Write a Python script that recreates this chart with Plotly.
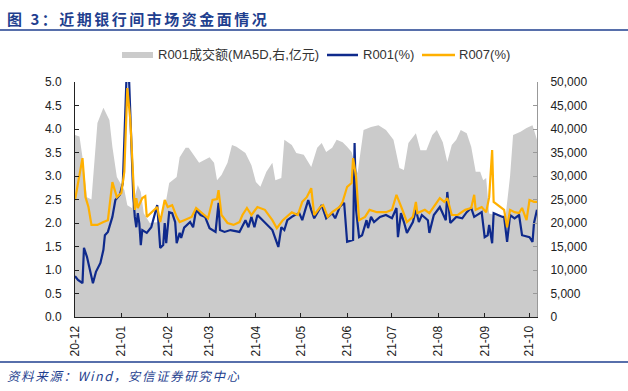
import plotly.graph_objects as go

# ---------------- data ----------------
vol_dates = ["2020-12-01","2020-12-04","2020-12-06","2020-12-09","2020-12-12","2020-12-16","2020-12-20",
 "2020-12-24","2020-12-26","2020-12-29","2021-01-01","2021-01-03","2021-01-05","2021-01-08","2021-01-12",
 "2021-01-14","2021-01-16","2021-01-20","2021-01-26","2021-01-31","2021-02-02","2021-02-07","2021-02-09",
 "2021-02-13","2021-02-15","2021-02-22","2021-03-01","2021-03-04","2021-03-06","2021-03-09","2021-03-13",
 "2021-03-16","2021-03-19","2021-03-25","2021-03-29","2021-04-01","2021-04-04","2021-04-08","2021-04-12",
 "2021-04-14","2021-04-18","2021-04-20","2021-04-25","2021-04-28","2021-05-03","2021-05-08","2021-05-12",
 "2021-05-15","2021-05-18","2021-05-22","2021-05-25","2021-05-29","2021-06-01","2021-06-04","2021-06-08",
 "2021-06-12","2021-06-17","2021-06-22","2021-06-27","2021-07-02","2021-07-06","2021-07-09","2021-07-12",
 "2021-07-17","2021-07-20","2021-07-24","2021-07-28","2021-07-31","2021-08-04","2021-08-07","2021-08-10",
 "2021-08-13","2021-08-16","2021-08-20","2021-08-23","2021-08-26","2021-08-29","2021-08-31","2021-09-02",
 "2021-09-04","2021-09-10","2021-09-15","2021-09-18","2021-09-20","2021-09-25","2021-09-29","2021-10-03",
 "2021-10-06"]
vol_ma5d = [38700,38400,34000,25500,25000,41300,44500,41900,36200,29800,28100,27000,23800,23200,28100,
 26600,22100,20000,20200,24900,28500,29800,34000,36000,36000,32800,34000,32800,29100,30200,32800,
 36600,36200,34900,32300,28700,27700,30900,32800,29100,29600,37700,36600,34900,34500,31900,36000,
 37000,35100,36000,37700,37200,36200,35100,30600,39800,40400,40800,39800,37700,31700,31300,37000,
 39100,35500,35500,38700,39800,37200,33000,36600,37700,39800,39100,36200,30900,30900,29100,29600,
 22000,21500,21500,30000,38700,39400,40200,40800,37700]

r001_dates = ["2020-12-01","2020-12-03","2020-12-06","2020-12-07","2020-12-09","2020-12-11","2020-12-13",
 "2020-12-15","2020-12-18","2020-12-20","2020-12-21","2020-12-23","2020-12-26","2020-12-28","2020-12-29",
 "2020-12-31","2021-01-02","2021-01-03","2021-01-05","2021-01-06","2021-01-07","2021-01-08","2021-01-09",
 "2021-01-10","2021-01-11","2021-01-12","2021-01-13","2021-01-14","2021-01-15","2021-01-18","2021-01-21",
 "2021-01-25","2021-01-27","2021-01-29","2021-01-30","2021-01-31","2021-02-02","2021-02-04","2021-02-06",
 "2021-02-07","2021-02-09","2021-02-10","2021-02-12","2021-02-16","2021-02-18","2021-02-20","2021-02-23",
 "2021-02-26","2021-03-01","2021-03-05","2021-03-07","2021-03-08","2021-03-11","2021-03-15","2021-03-21",
 "2021-03-25","2021-03-27","2021-03-29","2021-03-31","2021-04-02","2021-04-07","2021-04-12","2021-04-16",
 "2021-04-18","2021-04-20","2021-04-22","2021-04-25","2021-04-27","2021-04-30","2021-05-02","2021-05-04",
 "2021-05-06","2021-05-08","2021-05-10","2021-05-15","2021-05-18","2021-05-22","2021-05-24","2021-05-27",
 "2021-05-30","2021-06-01","2021-06-05","2021-06-06","2021-06-07","2021-06-09","2021-06-11","2021-06-14",
 "2021-06-15","2021-06-17","2021-06-19","2021-06-23","2021-06-27","2021-07-01","2021-07-04","2021-07-05",
 "2021-07-07","2021-07-09","2021-07-11","2021-07-15","2021-07-17","2021-07-19","2021-07-21","2021-07-25",
 "2021-07-26","2021-07-29","2021-08-02","2021-08-06","2021-08-07","2021-08-09","2021-08-13","2021-08-17",
 "2021-08-20","2021-08-23","2021-08-25","2021-08-30","2021-09-01","2021-09-03","2021-09-04","2021-09-06",
 "2021-09-07","2021-09-13","2021-09-14","2021-09-16","2021-09-18","2021-09-21","2021-09-24","2021-09-26",
 "2021-10-01","2021-10-03","2021-10-04","2021-10-06"]
r001 = [0.87,0.79,0.72,1.47,1.28,1.00,0.72,0.96,1.15,1.43,1.74,1.81,2.13,2.49,2.53,2.60,2.85,3.55,5.60,
 5.20,4.30,3.49,2.55,2.13,1.91,2.21,2.00,1.53,1.85,1.79,1.91,2.38,1.47,1.53,2.00,1.57,2.23,2.21,2.02,
 1.57,1.79,1.68,1.90,2.02,1.91,2.28,2.17,2.13,1.89,1.81,2.43,1.85,1.81,1.85,1.81,2.06,1.91,2.13,1.91,
 2.17,2.02,1.85,1.49,1.91,1.85,2.06,2.13,2.17,2.21,2.06,2.28,2.49,2.28,2.10,2.38,2.10,2.21,2.10,2.34,
 2.43,1.60,1.64,3.70,2.28,1.70,1.74,2.06,1.89,2.13,2.02,2.13,2.17,2.10,2.32,1.70,2.21,2.02,1.79,2.02,
 2.28,2.02,2.17,2.06,1.79,2.17,2.34,2.06,2.66,2.00,2.13,2.10,2.23,2.32,2.13,2.23,1.70,1.74,1.96,1.57,
 2.21,2.13,2.13,1.60,2.17,2.10,2.17,1.74,1.70,1.60,2.00,2.28]

r007_dates = ["2020-12-01","2020-12-04","2020-12-06","2020-12-08","2020-12-10","2020-12-12","2020-12-16",
 "2020-12-20","2020-12-23","2020-12-26","2020-12-29","2021-01-01","2021-01-03","2021-01-05","2021-01-07",
 "2021-01-09","2021-01-10","2021-01-11","2021-01-12","2021-01-15","2021-01-17","2021-01-18","2021-01-25",
 "2021-01-27","2021-01-30","2021-02-01","2021-02-04","2021-02-07","2021-02-09","2021-02-12","2021-02-17",
 "2021-02-20","2021-02-24","2021-02-28","2021-03-03","2021-03-06","2021-03-07","2021-03-09","2021-03-13",
 "2021-03-17","2021-03-21","2021-03-23","2021-03-26","2021-03-29","2021-04-02","2021-04-07","2021-04-12",
 "2021-04-15","2021-04-19","2021-04-25","2021-04-29","2021-05-02","2021-05-05","2021-05-08","2021-05-10",
 "2021-05-14","2021-05-16","2021-05-19","2021-05-22","2021-05-27","2021-05-29","2021-06-01","2021-06-04",
 "2021-06-05","2021-06-07","2021-06-09","2021-06-13","2021-06-16","2021-06-21","2021-06-27","2021-07-01",
 "2021-07-04","2021-07-08","2021-07-11","2021-07-15","2021-07-17","2021-07-18","2021-07-23","2021-07-26",
 "2021-07-29","2021-08-02","2021-08-05","2021-08-07","2021-08-10","2021-08-14","2021-08-19","2021-08-23",
 "2021-08-25","2021-08-26","2021-08-30","2021-09-02","2021-09-04","2021-09-06","2021-09-07","2021-09-14",
 "2021-09-16","2021-09-18","2021-09-21","2021-09-24","2021-09-26","2021-09-29","2021-10-01","2021-10-04",
 "2021-10-06"]
r007 = [2.49,2.98,3.38,2.55,2.34,1.96,1.96,2.02,2.06,2.87,2.55,2.64,3.09,4.87,4.19,2.91,2.28,2.53,2.32,
 2.53,2.57,2.13,2.34,2.02,2.49,2.34,2.38,2.13,2.02,2.06,2.13,2.32,2.21,2.10,2.49,2.51,2.70,2.17,2.00,
 1.96,2.02,2.17,2.32,2.17,2.34,2.28,2.06,1.89,2.06,2.23,2.17,2.45,2.55,2.74,2.17,2.34,2.38,2.13,2.23,
 2.34,2.45,2.77,2.85,3.38,2.98,2.06,2.13,2.28,2.23,2.23,2.28,2.60,2.28,2.02,2.13,2.45,2.21,2.28,2.21,
 2.34,2.53,2.45,2.53,2.17,2.17,2.28,2.32,2.60,2.28,2.34,2.23,2.55,3.55,2.45,2.28,1.91,2.28,2.23,2.21,
 2.32,2.06,2.49,2.45,2.45]

month_ticks = ["2020-12-01","2021-01-01","2021-02-01","2021-03-01","2021-04-01","2021-05-01","2021-06-01",
 "2021-07-01","2021-08-01","2021-09-01","2021-10-01"]

title_text = "图 3：近期银行间市场资金面情况"
source_text = "资料来源：Wind，安信证券研究中心"
leg_vol = "R001成交额(MA5D,右,亿元)"
leg_r001 = "R001(%)"
leg_r007 = "R007(%)"

# ---------------- styling ----------------
W, H = 628, 391
L, R, T, B = 75, 537, 82, 317
GRAY = "#CBCBCB"
BLUE = "#0F2A8C"
ORANGE = "#FFB000"
NAVY = "#1F3F8F"
FONT = "Liberation Sans, Arial, Noto Sans CJK SC, sans-serif"
CJK = "Noto Sans CJK SC, Liberation Sans, sans-serif"

def px(x):
    return (x - L) / (R - L)

def py(y):
    return (B - y) / (B - T)

fig = go.Figure()
fig.add_trace(go.Scatter(x=vol_dates, y=vol_ma5d, mode="lines", line=dict(width=0, color=GRAY),
                         fill="tozeroy", fillcolor=GRAY, yaxis="y", name=leg_vol, hoverinfo="skip"))
fig.add_trace(go.Scatter(x=r001_dates, y=r001, mode="lines", line=dict(width=2.2, color=BLUE),
                         yaxis="y2", name=leg_r001))
fig.add_trace(go.Scatter(x=r007_dates, y=r007, mode="lines", line=dict(width=2.2, color=ORANGE),
                         yaxis="y2", name=leg_r007))

shapes = [
    dict(type="line", xref="paper", yref="paper", x0=px(0), x1=px(W), y0=py(30), y1=py(30),
         line=dict(color=NAVY, width=1.5)),
    dict(type="line", xref="paper", yref="paper", x0=px(0), x1=px(W), y0=py(362), y1=py(362),
         line=dict(color=NAVY, width=1.5)),
    # manual legend
    dict(type="rect", xref="paper", yref="paper", x0=px(122), x1=px(153), y0=py(52), y1=py(58),
         fillcolor=GRAY, line=dict(width=0)),
    dict(type="line", xref="paper", yref="paper", x0=px(327), x1=px(358), y0=py(55), y1=py(55),
         line=dict(color=BLUE, width=2.5)),
    dict(type="line", xref="paper", yref="paper", x0=px(422), x1=px(455), y0=py(55), y1=py(55),
         line=dict(color=ORANGE, width=2.5)),
]

annotations = [
    dict(text="<b>" + title_text + "</b>", xref="paper", yref="paper", x=px(5), y=py(18),
         xanchor="left", yanchor="middle", showarrow=False, font=dict(family=CJK, size=15, color=NAVY)),
    dict(text="<i>" + source_text + "</i>", xref="paper", yref="paper", x=px(5), y=py(375),
         xanchor="left", yanchor="middle", showarrow=False, font=dict(family=CJK, size=12.5, color=NAVY)),
    dict(text=leg_vol, xref="paper", yref="paper", x=px(156), y=py(55), xanchor="left", yanchor="middle",
         showarrow=False, font=dict(family=FONT, size=13, color="#333333")),
    dict(text=leg_r001, xref="paper", yref="paper", x=px(361), y=py(55), xanchor="left", yanchor="middle",
         showarrow=False, font=dict(family=FONT, size=13, color="#333333")),
    dict(text=leg_r007, xref="paper", yref="paper", x=px(457), y=py(55), xanchor="left", yanchor="middle",
         showarrow=False, font=dict(family=FONT, size=13, color="#333333")),
]

fig.update_layout(
    width=W, height=H,
    margin=dict(l=L, r=W - R, t=T, b=H - B, pad=0),
    paper_bgcolor="white", plot_bgcolor="white",
    showlegend=False,
    shapes=shapes, annotations=annotations,
    font=dict(family=FONT, size=12, color="#222222"),
    xaxis=dict(type="date", range=["2020-12-01", "2021-10-06"], tickvals=month_ticks,
               tickformat="%y-%m", tickangle=-90, ticks="inside", ticklen=4, tickcolor="#222222",
               showline=True, linecolor="#222222", linewidth=1, showgrid=False, zeroline=False,
               ticklabelstandoff=3, tickfont=dict(size=12, color="#222222")),
    yaxis=dict(side="right", range=[0, 50000], dtick=5000, tickformat=",", ticks="inside", ticklen=4,
               tickcolor="#999999", showline=True, linecolor="#999999", linewidth=1, showgrid=False,
               zeroline=False, ticklabelstandoff=10, tickfont=dict(size=12, color="#222222")),
    yaxis2=dict(side="left", overlaying="y", range=[0, 5], dtick=0.5, tickformat=".1f", ticks="inside",
                ticklen=4, tickcolor="#222222", showline=True, linecolor="#222222", linewidth=1,
                showgrid=False, zeroline=False, ticklabelstandoff=10, tickfont=dict(size=12, color="#222222")),
)

post = """
document.body.style.margin='0';
document.body.style.padding='0';
document.documentElement.style.overflow='hidden';
document.querySelectorAll('text.annotation-text').forEach(function(t){
  var s = null;
  if (t.textContent.indexOf('图') === 0) { s = '2.5px'; }
  else if (t.textContent.indexOf('资料') === 0) { s = '1.6px'; }
  if (s) {
    var b = t.getBBox();
    t.setAttribute('text-anchor', 'start');
    t.setAttribute('x', b.x);
    t.style.letterSpacing = s;
  }
});
"""

fig.write_html("out.html", post_script=post, config={"displayModeBar": False})
